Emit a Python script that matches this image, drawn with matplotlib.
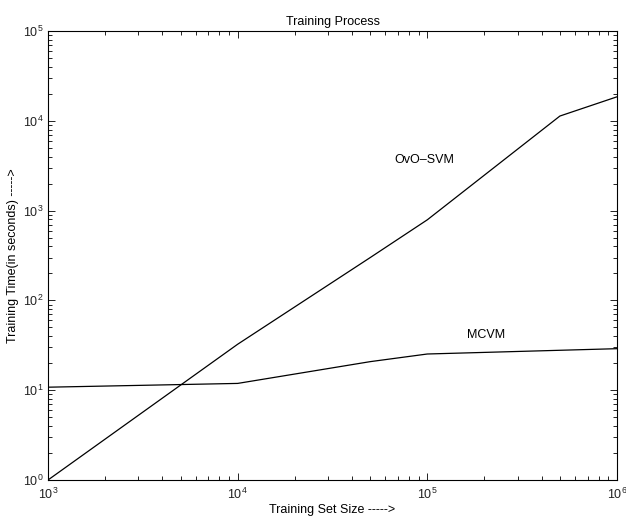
import matplotlib
matplotlib.use("Agg")
import matplotlib.pyplot as plt

plt.rcParams['font.family'] = ['Liberation Sans', 'DejaVu Sans']
plt.rcParams['mathtext.fontset'] = 'custom'
plt.rcParams['mathtext.rm'] = 'Liberation Sans'
plt.rcParams['mathtext.default'] = 'regular'

train_size = [1e3, 1e4, 5e4, 1e5, 5e5, 1e6]
ovo_svm = [1.0, 32.5, 300, 790, 11300, 18500]
mcvm_size = [1e3, 1e4, 5e4, 1e5, 1e6]
mcvm = [10.8, 11.9, 20.8, 25.3, 29.0]

fig = plt.figure(figsize=(6.26, 5.16), dpi=100)
ax = fig.add_axes([48/626, 1 - 480/516, (617-48)/626, (480-31)/516])

ax.plot(train_size, ovo_svm, color='black', lw=0.9)
ax.plot(mcvm_size, mcvm, color='black', lw=0.9)
ax.set_xscale('log')
ax.set_yscale('log')
ax.set_xlim(1e3, 1e6)
ax.set_ylim(1e0, 1e5)

ax.text(9.6e4, 3640, 'OvO–SVM', fontsize=9, ha='center', va='center')
ax.text(2.05e5, 41, 'MCVM', fontsize=9, ha='center', va='center')

ax.set_title('Training Process', fontsize=9, pad=4)
ax.set_xlabel('Training Set Size ----->', fontsize=9, labelpad=1)
ax.set_ylabel('Training Time(in seconds) ----->', fontsize=9, labelpad=3)

ax.tick_params(which='both', direction='in', top=True, right=True, labelsize=9,
               labelcolor='#222222')
ax.tick_params(which='major', length=5, width=0.6)
ax.tick_params(which='minor', length=3, width=0.6)
ax.tick_params(axis='x', pad=5)
ax.tick_params(axis='y', pad=3)
for s in ax.spines.values():
    s.set_linewidth(0.8)

fig.savefig('out.png', dpi=100)
